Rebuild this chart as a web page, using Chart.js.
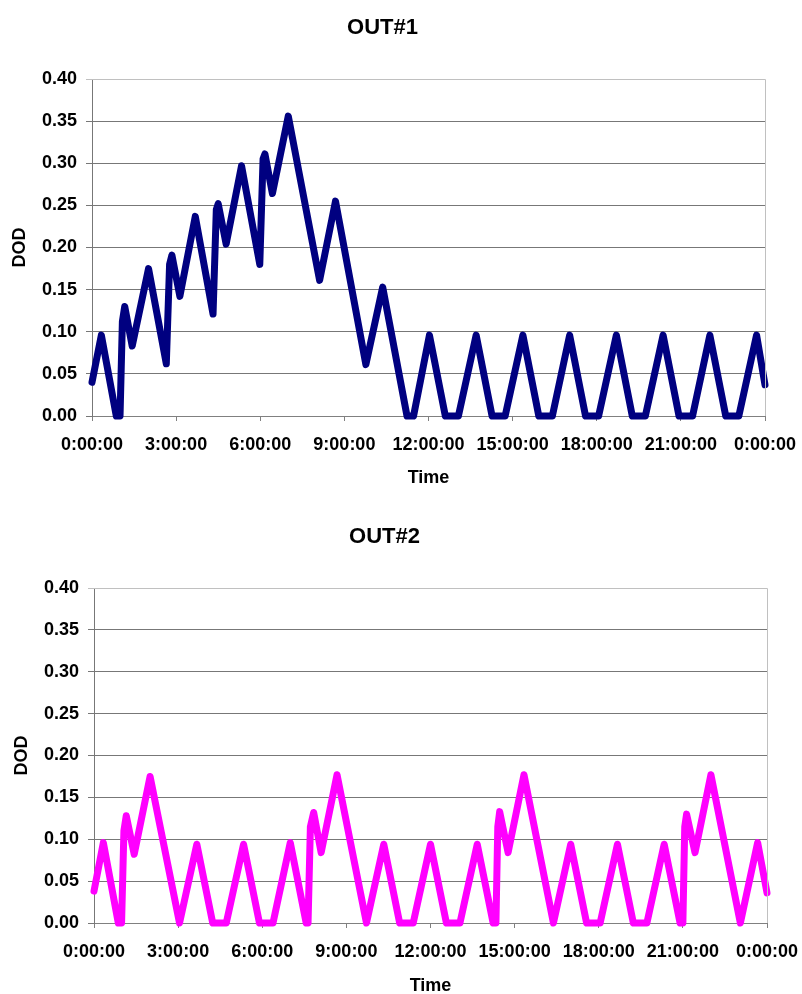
<!DOCTYPE html>
<html>
<head>
<meta charset="utf-8">
<script src="https://cdn.jsdelivr.net/npm/chart.js@4.4.1/dist/chart.umd.min.js"></script>
<style>
  html, body { margin: 0; padding: 0; background: #fff; }
  body { position: relative; width: 802px; height: 994px; overflow: hidden; }
  canvas { position: absolute; }
  #out1 { left: 0; top: 0; }
  #out2 { left: 2px; top: 509px; }
</style>
</head>
<body>
<canvas id="out1" width="802" height="497"></canvas>
<canvas id="out2" width="800" height="495"></canvas>
<script>
// tick labels of the time axis (every 3 h, 0:00 -> 0:00 next day)
const timeLabels = ['0:00:00', '3:00:00', '6:00:00', '9:00:00', '12:00:00', '15:00:00', '18:00:00', '21:00:00', '0:00:00'];

// OUT#1 : minutes since midnight / depth of discharge
const t1 = [0, 20, 52, 60, 65, 70, 86, 121, 159, 166, 171, 188, 221, 259, 266, 270, 287, 320, 359, 366, 370, 386, 420,
  487, 521, 586, 622, 674, 688, 722, 756, 784, 822, 856, 884, 922, 956, 985, 1022, 1056, 1084, 1122,
  1156, 1184, 1222, 1256, 1285, 1322, 1356, 1384, 1422, 1440];
const dod1 = [0.040, 0.096, 0, 0, 0.112, 0.130, 0.083, 0.175, 0.062, 0.180, 0.191, 0.142, 0.237, 0.121, 0.245, 0.252, 0.204, 0.297, 0.180, 0.305, 0.311, 0.264, 0.356,
  0.161, 0.255, 0.061, 0.153, 0, 0, 0.096, 0, 0, 0.096, 0, 0, 0.096, 0, 0, 0.096, 0, 0, 0.096,
  0, 0, 0.096, 0, 0, 0.096, 0, 0, 0.096, 0.037];

// OUT#2
const t2 = [0, 20, 52, 59, 64, 69, 86, 120, 183, 220, 254, 283, 320, 354, 383, 420, 454, 458, 463, 470, 486, 520,
  583, 620, 654, 683, 720, 754, 783, 820, 854, 860, 864, 868, 886, 920, 983, 1020, 1054, 1083, 1120,
  1154, 1183, 1220, 1254, 1260, 1264, 1268, 1286, 1320, 1383, 1420, 1440];
const dod2 = [0.038, 0.096, 0, 0, 0.110, 0.128, 0.082, 0.175, 0, 0.094, 0, 0, 0.094, 0, 0, 0.096, 0, 0, 0.115, 0.132, 0.084, 0.177,
  0, 0.094, 0, 0, 0.094, 0, 0, 0.094, 0, 0, 0.115, 0.133, 0.084, 0.177, 0, 0.094, 0, 0, 0.094,
  0, 0, 0.094, 0, 0, 0.115, 0.130, 0.084, 0.177, 0, 0.096, 0.036];

const FONT = "'Liberation Sans', Arial, sans-serif";

// cadre clair en haut / à droite de la zone de tracé (style Excel)
const plotFrame = {
  id: 'plotFrame',
  afterDraw(chart) {
    const { ctx, chartArea: a } = chart;
    ctx.save();
    ctx.strokeStyle = '#c0c0c0';
    ctx.lineWidth = 1;
    ctx.beginPath();
    ctx.moveTo(a.left, a.top + 0.5);
    ctx.lineTo(a.right + 0.5, a.top + 0.5);
    ctx.lineTo(a.right + 0.5, a.bottom);
    ctx.stroke();
    ctx.restore();
  }
};

function makeChart(id, title, t, dod, color, timePad, padRight) {
  const points = t.map((x, i) => ({ x, y: dod[i] }));
  return new Chart(document.getElementById(id), {
    type: 'line',
    data: {
      datasets: [{
        data: points,
        borderColor: color,
        borderWidth: 7,
        pointRadius: 0,
        borderJoinStyle: 'round',
        borderCapStyle: 'round',
        tension: 0,
        clip: false
      }]
    },
    options: {
      responsive: false,
      animation: false,
      layout: { padding: { left: 0, right: padRight, top: 0, bottom: 0 } },
      plugins: {
        legend: { display: false },
        tooltip: { enabled: false },
        title: {
          display: true,
          text: title,
          color: '#000',
          font: { family: FONT, size: 22, weight: 'bold' },
          padding: { top: 15, bottom: 37.6 }
        }
      },
      scales: {
        x: {
          type: 'linear',
          min: 0,
          max: 1440,
          afterFit(scale) {
            scale.height = 81;
            // pas de marge auto pour le dernier libellé
            scale.paddingLeft = 0;
            scale.paddingRight = 0;
          },
          ticks: {
            stepSize: 180,
            autoSkip: false,
            maxRotation: 0,
            padding: 13,
            color: '#000',
            font: { family: FONT, size: 18, weight: 'bold' },
            callback: (v, i) => timeLabels[i]
          },
          grid: { drawOnChartArea: false, drawTicks: true, tickLength: 5, color: '#808080' },
          border: { color: '#808080', width: 1 },
          title: {
            display: true,
            text: 'Time',
            color: '#000',
            font: { family: FONT, size: 18, weight: 'bold' },
            padding: { top: timePad, bottom: timePad }
          }
        },
        y: {
          min: 0,
          max: 0.4,
          afterFit(scale) { scale.width = 92; },
          ticks: {
            stepSize: 0.05,
            padding: 9,
            color: '#000',
            font: { family: FONT, size: 18, weight: 'bold' },
            callback: (v) => v.toFixed(2)
          },
          grid: {
            tickLength: 6,
            color: (c) => (c.tick && c.tick.value >= 0.399 ? '#c0c0c0' : '#777')
          },
          border: { color: '#777', width: 1 },
          title: {
            display: true,
            text: 'DOD',
            color: '#000',
            font: { family: FONT, size: 18, weight: 'bold' },
            padding: { top: 9, bottom: 9 }
          }
        }
      }
    },
    plugins: [plotFrame]
  });
}

makeChart('out1', 'OUT#1', t1, dod1, '#000080', 8, 37);
makeChart('out2', 'OUT#2', t2, dod2, '#ff00ff', 7, 35);
</script>
</body>
</html>
